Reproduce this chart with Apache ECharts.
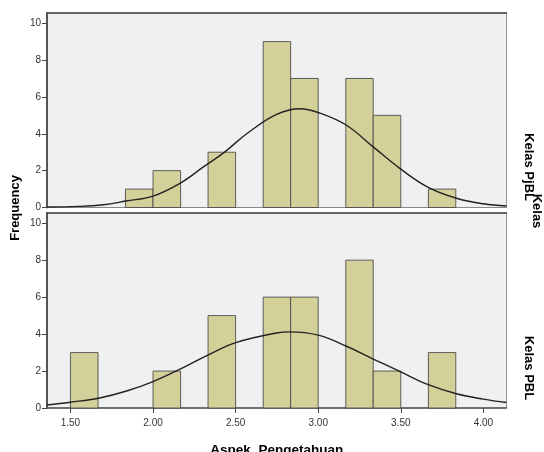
<!DOCTYPE html>
<html>
<head>
<meta charset="utf-8">
<script src="https://cdn.jsdelivr.net/npm/echarts@6/dist/echarts.min.js"></script>
<style>
  html, body { margin: 0; padding: 0; background: #fff; }
  #chart { width: 544px; height: 452px; }
</style>
</head>
<body>
<div id="chart"></div>
<script>
// histogram bins (width 1/6) and counts per class
var binStarts = [1.500, 1.667, 1.833, 2.000, 2.167, 2.333, 2.500, 2.667, 2.833, 3.000, 3.167, 3.333, 3.500, 3.667, 3.833];
var binEnds   = [1.667, 1.833, 2.000, 2.167, 2.333, 2.500, 2.667, 2.833, 3.000, 3.167, 3.333, 3.500, 3.667, 3.833, 4.000];
var countsPjBL = [0, 0, 1, 2, 0, 3, 0, 9, 7, 0, 7, 5, 0, 1, 0];
var countsPBL  = [3, 0, 0, 2, 0, 5, 0, 6, 6, 0, 8, 2, 0, 3, 0];

// normal curves
var curvePjBLx = [1.358, 1.55, 1.70, 1.835, 2.00, 2.163, 2.305, 2.435, 2.567, 2.748, 2.889, 3.01, 3.171, 3.333, 3.494, 3.666, 3.837, 4.00, 4.14];
var curvePjBLy = [0.03, 0.06, 0.15, 0.35, 0.62, 1.31, 2.20, 3.02, 4.00, 5.05, 5.36, 5.12, 4.46, 3.29, 2.12, 1.09, 0.50, 0.20, 0.08];
var curvePBLx = [1.358, 1.498, 1.67, 1.84, 2.00, 2.163, 2.335, 2.506, 2.748, 2.829, 3.00, 3.171, 3.333, 3.494, 3.666, 3.837, 4.00, 4.14];
var curvePBLy = [0.16, 0.31, 0.53, 0.92, 1.43, 2.10, 2.88, 3.55, 4.06, 4.12, 3.94, 3.34, 2.65, 1.98, 1.26, 0.77, 0.48, 0.30];

var xTicks = [1.5, 2.0, 2.5, 3.0, 3.5, 4.0];
var yTicks = [0, 2, 4, 6, 8, 10];

var barFill = '#d4d099';
var barStroke = 'rgba(70,70,70,0.85)';

function binData(counts) {
  var out = [];
  for (var i = 0; i < counts.length; i++) {
    if (counts[i] > 0) out.push([binStarts[i], binEnds[i], counts[i]]);
  }
  return out;
}

function curveData(xs, ys) {
  return xs.map(function (x, i) { return [x, ys[i]]; });
}

function renderBin(params, api) {
  var p0 = api.coord([api.value(0), api.value(2)]);
  var p1 = api.coord([api.value(1), 0]);
  return {
    type: 'rect',
    shape: { x: p0[0], y: p0[1], width: p1[0] - p0[0], height: p1[1] - p0[1] },
    style: { fill: barFill, stroke: barStroke, lineWidth: 1 }
  };
}

function makeX(gridIndex, showLabels) {
  return {
    type: 'value', gridIndex: gridIndex, min: 1.358, max: 4.14,
    axisLine: { show: true, onZero: false, lineStyle: { color: showLabels ? '#555' : '#888', width: showLabels ? 1.5 : 1 } },
    axisTick: { show: showLabels, inside: false, length: 5, customValues: xTicks, lineStyle: { color: '#444' } },
    axisLabel: {
      show: showLabels, customValues: xTicks, margin: 10, color: '#333',
      fontFamily: 'Liberation Sans, Arial, sans-serif', fontSize: 10,
      formatter: function (v) { return v.toFixed(2); }
    },
    splitLine: { show: false },
    name: showLabels ? 'Aspek  Pengetahuan' : '',
    nameLocation: 'middle', nameGap: 35,
    nameTextStyle: { fontFamily: 'Liberation Sans, Arial, sans-serif', fontWeight: 'bold', fontSize: 13.5, color: '#000' }
  };
}

function makeTopLine(gridIndex) {
  return {
    type: 'value', gridIndex: gridIndex, position: 'top', min: 1.358, max: 4.14,
    axisLine: { show: true, onZero: false, lineStyle: { color: '#444', width: 1.5 } },
    axisTick: { show: false }, axisLabel: { show: false }, splitLine: { show: false }
  };
}

function makeY(gridIndex) {
  return {
    type: 'value', gridIndex: gridIndex, min: 0, max: 10.55,
    axisLine: { show: true, lineStyle: { color: '#555', width: 2 } },
    axisTick: { show: true, inside: false, length: 5, customValues: yTicks, lineStyle: { color: '#444' } },
    axisLabel: { customValues: yTicks, margin: 6, color: '#333', fontFamily: 'Liberation Sans, Arial, sans-serif', fontSize: 10 },
    splitLine: { show: false }
  };
}

var chart = echarts.init(document.getElementById('chart'));
chart.setOption({
  backgroundColor: '#ffffff',
  animation: false,
  grid: [
    { left: 47, top: 13, width: 459.5, height: 194.5, outerBoundsMode: 'none', containLabel: false,
      show: true, backgroundColor: '#f0f0f0', borderColor: '#999', borderWidth: 1 },
    { left: 47, top: 213, width: 459.5, height: 195, outerBoundsMode: 'none', containLabel: false,
      show: true, backgroundColor: '#f0f0f0', borderColor: '#999', borderWidth: 1 }
  ],
  xAxis: [makeX(0, false), makeX(1, true), makeTopLine(0), makeTopLine(1)],
  yAxis: [makeY(0), makeY(1)],
  series: [
    { type: 'custom', xAxisIndex: 0, yAxisIndex: 0, renderItem: renderBin, data: binData(countsPjBL), z: 2 },
    { type: 'custom', xAxisIndex: 1, yAxisIndex: 1, renderItem: renderBin, data: binData(countsPBL), z: 2 },
    { type: 'line', xAxisIndex: 0, yAxisIndex: 0, data: curveData(curvePjBLx, curvePjBLy), smooth: 0.4, symbol: 'none',
      lineStyle: { color: '#222', width: 1.4 }, z: 3 },
    { type: 'line', xAxisIndex: 1, yAxisIndex: 1, data: curveData(curvePBLx, curvePBLy), smooth: 0.4, symbol: 'none',
      lineStyle: { color: '#222', width: 1.4 }, z: 3 }
  ],
  graphic: [
    { type: 'text', x: 15, y: 208, rotation: Math.PI / 2, style: { text: 'Frequency', x: 0, y: 0, align: 'center', verticalAlign: 'middle',
      font: 'bold 13px "Liberation Sans", Arial, sans-serif', fill: '#000' } },
    { type: 'text', x: 529, y: 167, rotation: -Math.PI / 2, style: { text: 'Kelas PjBL', align: 'center', verticalAlign: 'middle',
      font: 'bold 13px "Liberation Sans", Arial, sans-serif', fill: '#000' } },
    { type: 'text', x: 536.5, y: 211, rotation: -Math.PI / 2, style: { text: 'Kelas', align: 'center', verticalAlign: 'middle',
      font: 'bold 13px "Liberation Sans", Arial, sans-serif', fill: '#000' } },
    { type: 'text', x: 529, y: 368, rotation: -Math.PI / 2, style: { text: 'Kelas PBL', align: 'center', verticalAlign: 'middle',
      font: 'bold 13px "Liberation Sans", Arial, sans-serif', fill: '#000' } }
  ]
});
</script>
</body>
</html>
